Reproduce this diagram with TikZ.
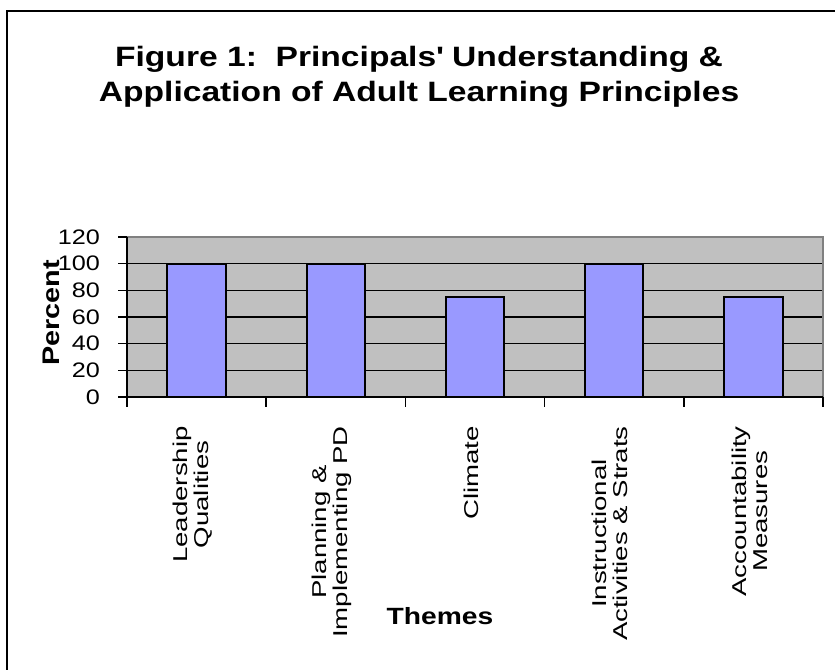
\documentclass[tikz,border=0pt]{standalone}
\usepackage{fontspec}
\setmainfont{Liberation Sans}[FakeStretch=1.2]
\newfontfamily\catfont{Liberation Sans}[FakeStretch=1.38]
\definecolor{plotgray}{HTML}{C0C0C0}
\definecolor{barblue}{HTML}{9999FF}
\definecolor{framegray}{HTML}{808080}
\tikzset{
    every node/.style={inner sep=0pt},
    charttitle/.style={align=center, anchor=north, font=\bfseries\fontsize{28}{35}\selectfont},
    bar/.style={draw=black, line width=2pt, fill=barblue},
    gridline/.style={line width=1.2pt},
    axis/.style={line width=1.5pt},
    ticklabel/.style={anchor=east, font=\fontsize{21}{21}\selectfont},
    catlabel/.style={rotate=90, anchor=east, align=center, font=\catfont\fontsize{20}{21}\selectfont},
}

\begin{document}
\begin{tikzpicture}[x=1pt, y=-1pt]
    \useasboundingbox (0,0) rectangle (835,670);
    \draw[line width=1.5pt] (835,11) -- (7,11) -- (7,670);

    \node[charttitle] (title) at (419,46) {Figure 1:\ \ Principals\textquotesingle\ Understanding \&\\Application of Adult Learning Principles};

    % plot area, values in percent
    \begin{scope}[shift={(127,397)}, x=139.2pt, y=1.3333pt]
        \fill[plotgray] (0,0) rectangle (5,120);
        \foreach \v in {20,40,...,100}
            \draw[gridline] (0,\v) -- (5,\v);
        \draw[framegray, line width=2pt] (0,120) -- (5,120) -- (5,0);
        \draw[axis] (0,120) -- (0,0) -- (5,0);

        \foreach \v in {0,20,...,120} {
            \draw[axis] (0,\v) -- ++(-9pt,0pt);
            \node[ticklabel, xshift=-27pt] (y\v) at (0,\v) {\v};
        }
        \foreach \i in {0,...,5}
            \draw[axis] (\i,0) -- ++(0pt,-10pt);

        \foreach \v [count=\i] in {100,100,75,100,75}
            \draw[bar] (\i-0.71,0) rectangle (\i-0.29,\v);

        \foreach \txt [count=\i] in {{Leadership\\Qualities}, {Planning \&\\Implementing PD}, Climate,
                {Instructional\\Activities \& Strats}, {Accountability\\Measures}}
            \node[xshift=-4pt, yshift=-29pt, catlabel] (cat\i) at (\i-0.5,0) {\txt};
    \end{scope}

    \node[rotate=90, font=\bfseries\fontsize{24}{24}\selectfont] (ylabel) at (51,313) {Percent};
    \node[font=\bfseries\fontsize{23.5}{23.5}\selectfont] (xlabel) at (440,616) {Themes};
\end{tikzpicture}
\end{document}
